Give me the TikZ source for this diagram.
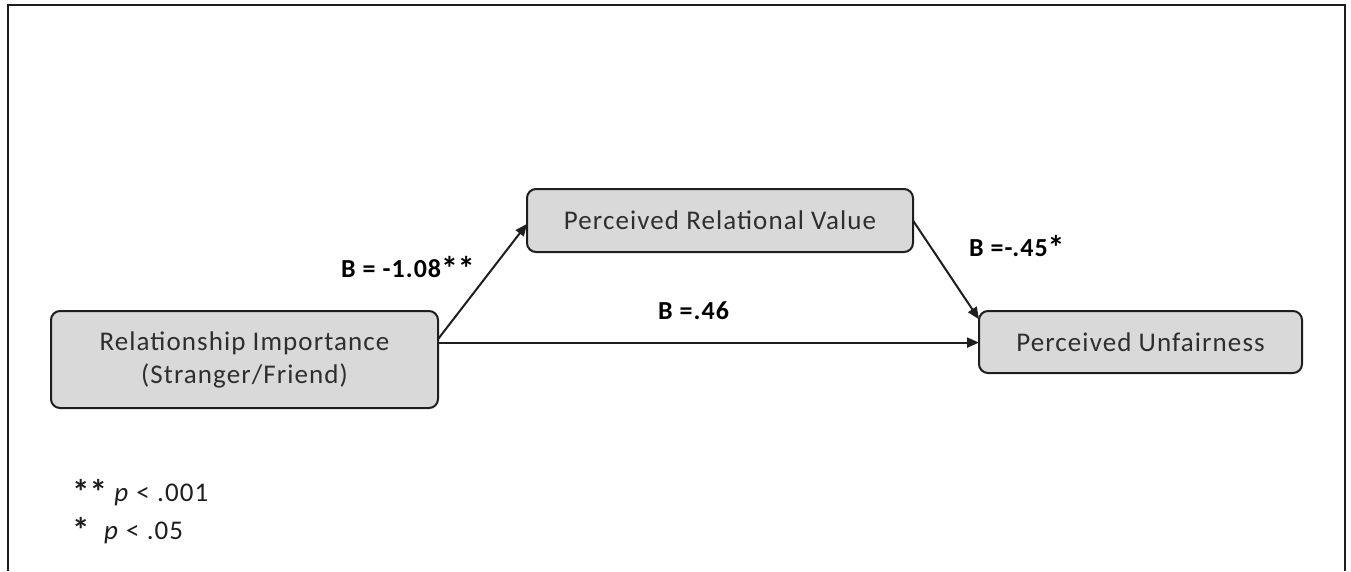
\documentclass[tikz,border=0pt]{standalone}
\usepackage{fontspec}
\setmainfont{Carlito}[LetterSpace=4]
\usetikzlibrary{arrows.meta,calc}

\definecolor{boxfill}{HTML}{D9D9D9}
\definecolor{boxline}{HTML}{1E1E1E}
\definecolor{boxtext}{HTML}{2E2E2E}

\newcommand{\bigstar}{\raisebox{-0.12em}{\scalebox{1.3}{*}}}

\begin{document}
\begin{tikzpicture}[x=1pt,y=-1pt,
  varbox/.style={draw=boxline, line width=2pt, fill=boxfill, rounded corners=9pt,
    inner sep=0pt, outer sep=0pt, align=center, text=boxtext,
    font=\fontsize{27}{33}\selectfont},
  path/.style={draw=boxline, line width=2pt, -{Triangle[length=12pt,width=10pt]}},
  coef/.style={font=\fontsize{26}{30}\selectfont\bfseries, text=black, inner sep=0pt, anchor=base west},
  legend/.style={font=\fontsize{27}{30}\selectfont, text=boxline, inner sep=0pt, anchor=base west}]

  \useasboundingbox (0,0) rectangle (1351,571);

  % open frame around the figure
  \draw[line width=2.7pt, color=boxline] (8,571) -- (8,5) -- (1345,5) -- (1345,571);

  % variables
  \node[varbox, minimum width=387pt, minimum height=97pt] (imp) at (244.5,359.5)
    {Relationship Importance\\(Stranger/Friend)};
  \node[varbox, minimum width=386pt, minimum height=63pt] (val) at (720,220.5)
    {Perceived Relational Value};
  \node[varbox, minimum width=323pt, minimum height=62pt] (unf) at (1140.5,342)
    {Perceived Unfairness};

  % paths
  \draw[path] (imp.6.6) -- (val.181.3);
  \draw[path] (val.east) -- (unf.172.2);
  \draw[path] (imp.5.5) -- (imp.5.5 -| unf.west);

  % coefficients
  \node[coef] (ca) at (341,277) {B = -1.08\bigstar\bigstar};
  \node[coef] (cb) at (658,319) {B =.46};
  \node[coef] (cc) at (969,256) {B =-.45\bigstar};

  % significance legend
  \node[legend] (l1) at (72,501) {\textbf{\bigstar\bigstar} \textit{p} < .001};
  \node[legend] (l2) at (72,539) {\textbf{\bigstar}\ \ \textit{p} < .05};
\end{tikzpicture}
\end{document}
